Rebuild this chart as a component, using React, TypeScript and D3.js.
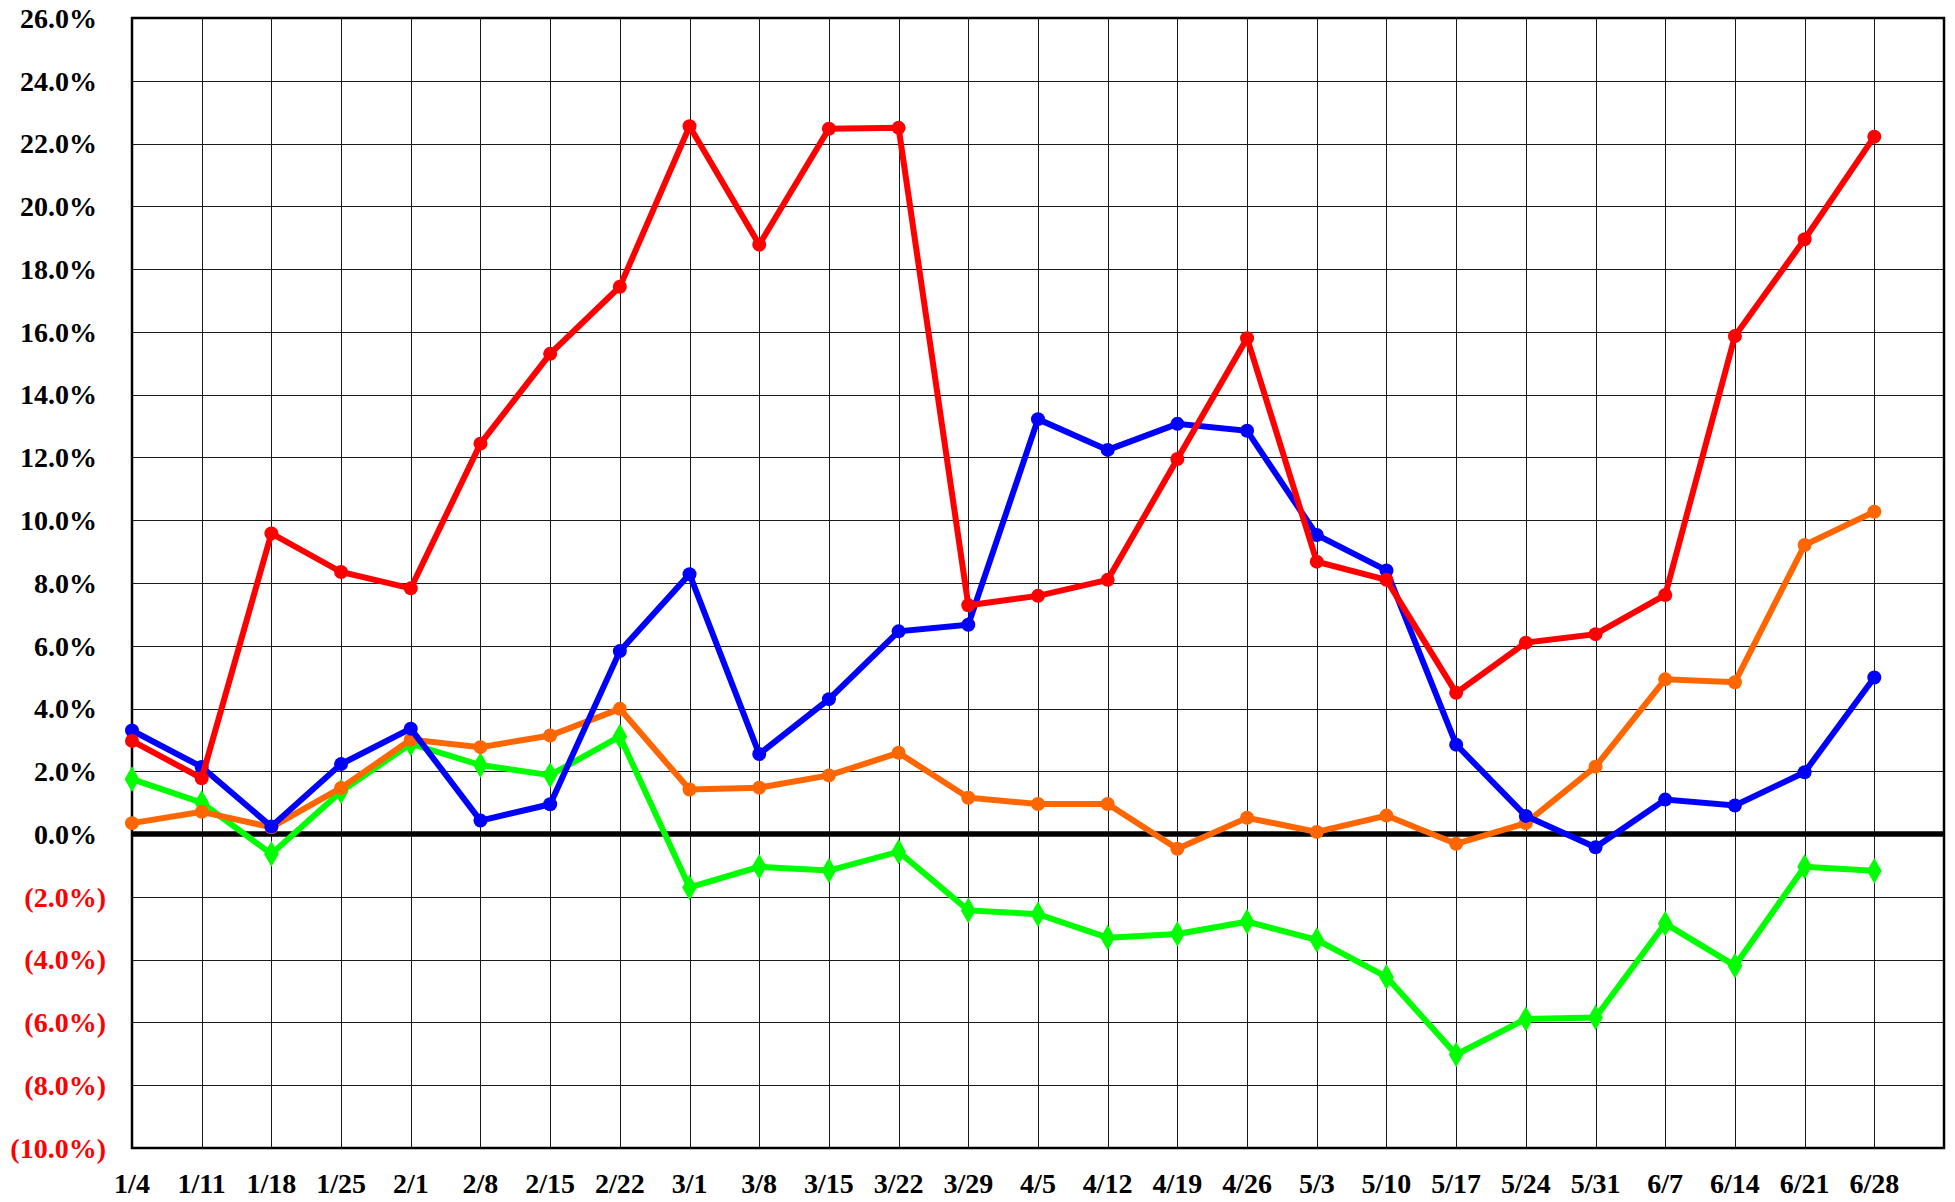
import React, { useEffect, useRef } from "react";
import * as d3 from "d3";

const categories = [
  "1/4", "1/11", "1/18", "1/25", "2/1", "2/8", "2/15", "2/22", "3/1", "3/8",
  "3/15", "3/22", "3/29", "4/5", "4/12", "4/19", "4/26", "5/3", "5/10", "5/17",
  "5/24", "5/31", "6/7", "6/14", "6/21", "6/28",
];

const redValues = [
  2.97, 1.78, 9.58, 8.35, 7.83, 12.44, 15.3, 17.44, 22.55, 18.78, 22.47, 22.5,
  7.29, 7.59, 8.1, 11.95, 15.8, 8.68, 8.1, 4.5, 6.1, 6.37, 7.62, 15.87, 18.95,
  22.22,
];

const blueValues = [
  3.3, 2.14, 0.24, 2.23, 3.36, 0.43, 0.95, 5.83, 8.28, 2.55, 4.3, 6.46, 6.67,
  13.22, 12.24, 13.07, 12.85, 9.53, 8.4, 2.85, 0.58, -0.42, 1.1, 0.91, 1.97,
  4.99,
];

const orangeValues = [
  0.35, 0.71, 0.22, 1.47, 3.01, 2.77, 3.14, 3.99, 1.42, 1.48, 1.87, 2.59, 1.16,
  0.96, 0.96, -0.47, 0.52, 0.07, 0.59, -0.31, 0.35, 2.15, 4.93, 4.84, 9.21,
  10.27,
];

const greenValues = [
  1.75, 1.0, -0.63, 1.36, 2.88, 2.2, 1.88, 3.11, -1.7, -1.04, -1.16, -0.56,
  -2.43, -2.55, -3.3, -3.18, -2.79, -3.37, -4.55, -7.02, -5.89, -5.84, -2.85,
  -4.19, -1.04, -1.17,
];

const yTicks = [-10, -8, -6, -4, -2, 0, 2, 4, 6, 8, 10, 12, 14, 16, 18, 20, 22, 24, 26];

const FONT = "'Liberation Serif', 'Times New Roman', serif";

const App = () => {
  const ref = useRef<SVGSVGElement | null>(null);

  useEffect(() => {
    const width = 1955;
    const height = 1202;
    const left = 132;
    const top = 18;
    const bottom = 1148;

    const x = d3
      .scaleLinear()
      .domain([0, categories.length])
      .range([left, 1944]);

    const y = d3.scaleLinear().domain([-10, 26]).range([bottom, top]);

    const svg = d3.select(ref.current);
    svg.selectAll("*").remove();
    svg.attr("width", width).attr("height", height).attr("viewBox", [0, 0, width, height]);

    // grid
    const grid = svg.append("g").attr("stroke", "#1a1a1a").attr("stroke-width", 1);
    grid
      .selectAll("line.h")
      .data(yTicks)
      .join("line")
      .attr("class", "h")
      .attr("x1", x(0))
      .attr("x2", x(categories.length))
      .attr("y1", (d) => Math.round(y(d)) + 0.5)
      .attr("y2", (d) => Math.round(y(d)) + 0.5);
    grid
      .selectAll("line.v")
      .data(categories)
      .join("line")
      .attr("class", "v")
      .attr("x1", (_, i) => Math.round(x(i)) + 0.5)
      .attr("x2", (_, i) => Math.round(x(i)) + 0.5)
      .attr("y1", y(26))
      .attr("y2", y(-10));

    // frame
    svg
      .append("rect")
      .attr("x", x(0))
      .attr("y", y(26))
      .attr("width", x(categories.length) - x(0))
      .attr("height", y(-10) - y(26))
      .attr("fill", "none")
      .attr("stroke", "#000")
      .attr("stroke-width", 2.5);

    // zero line
    svg
      .append("line")
      .attr("x1", x(0))
      .attr("x2", x(categories.length))
      .attr("y1", y(0))
      .attr("y2", y(0))
      .attr("stroke", "#000")
      .attr("stroke-width", 5.5);

    // y labels
    svg
      .append("g")
      .selectAll("text")
      .data(yTicks)
      .join("text")
      .attr("x", (d) => (d < 0 ? 106 : 97))
      .attr("y", (d) => y(d))
      .attr("dy", "0.35em")
      .attr("text-anchor", "end")
      .attr("font-family", FONT)
      .attr("font-weight", "bold")
      .attr("font-size", 28)
      .attr("fill", (d) => (d < 0 ? "#ff0000" : "#000"))
      .text((d) => (d < 0 ? `(${Math.abs(d).toFixed(1)}%)` : `${d.toFixed(1)}%`));

    // x labels
    svg
      .append("g")
      .selectAll("text")
      .data(categories)
      .join("text")
      .attr("x", (_, i) => x(i))
      .attr("y", 1193)
      .attr("text-anchor", "middle")
      .attr("font-family", FONT)
      .attr("font-weight", "bold")
      .attr("font-size", 28)
      .attr("fill", "#000")
      .text((d) => d);

    const line = d3
      .line<number>()
      .x((_, i) => x(i))
      .y((d) => y(d));

    const series = [
      { values: greenValues, color: "#00ff00", marker: "diamond" },
      { values: orangeValues, color: "#ff6600", marker: "circle" },
      { values: blueValues, color: "#0000ff", marker: "circle" },
      { values: redValues, color: "#ff0000", marker: "circle" },
    ];

    const diamond = d3.symbol().type(d3.symbolDiamond).size(190);

    series.forEach((s) => {
      const g = svg.append("g");
      g.append("path")
        .attr("d", line(s.values))
        .attr("fill", "none")
        .attr("stroke", s.color)
        .attr("stroke-width", 6)
        .attr("stroke-linejoin", "miter");

      if (s.marker === "circle") {
        g.selectAll("circle")
          .data(s.values)
          .join("circle")
          .attr("cx", (_, i) => x(i))
          .attr("cy", (d) => y(d))
          .attr("r", 7)
          .attr("fill", s.color);
      } else {
        g.selectAll("path.m")
          .data(s.values)
          .join("path")
          .attr("class", "m")
          .attr("transform", (d, i) => `translate(${x(i)},${y(d)})`)
          .attr("d", diamond())
          .attr("fill", s.color);
      }
    });
  }, []);

  return <svg ref={ref} style={{ position: "absolute", left: 0, top: 0, display: "block" }}></svg>;
};

export default App;
